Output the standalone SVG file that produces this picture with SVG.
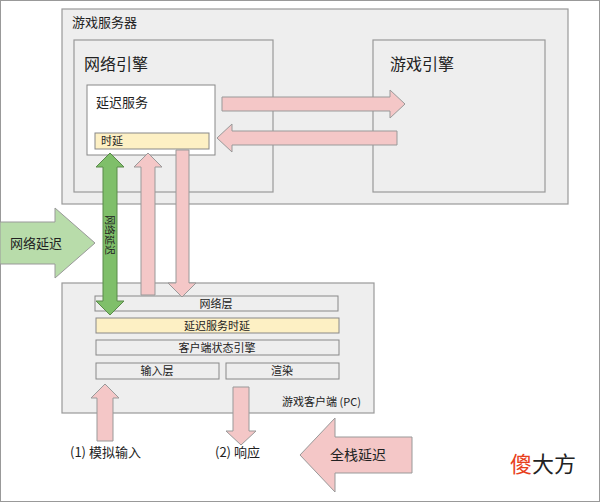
<svg xmlns="http://www.w3.org/2000/svg" width="600" height="502" viewBox="0 0 600 502">
<style>
text{font-family:"Noto Sans CJK SC","Noto Sans",sans-serif;fill:#222}
.box{fill:#eee;stroke:#999;stroke-width:1.2}
.row{fill:#eee;stroke:#888;stroke-width:1}
.yel{fill:#fdf0c4;stroke:#888;stroke-width:1}
.pink{fill:#f4c7c7;stroke:#999;stroke-width:1}
.green{fill:#7fbf6a;stroke:#5a8a4a;stroke-width:1}
.lg{fill:#b8dcaa;stroke:#999;stroke-width:1}
.s{font-size:11px}
</style>
<rect x="0.5" y="0.5" width="599" height="501" fill="#fff" stroke="#999"/>
<g id="server"><rect class="box" x="62" y="9" width="506" height="195"/><text x="72" y="27" font-size="13">游戏服务器</text></g>
<g id="net-engine"><rect class="box" x="74" y="40" width="199" height="152"/><text x="84" y="70" font-size="16">网络引擎</text></g>
<g id="game-engine"><rect class="box" x="373" y="40" width="172" height="152"/><text x="390" y="70" font-size="16">游戏引擎</text></g>
<g id="latency-service"><rect x="87" y="85" width="128" height="70" fill="#fff" stroke="#888"/><text x="96" y="107" font-size="13">延迟服务</text>
<rect class="yel" x="95" y="133" width="114" height="16"/><text x="101" y="145" class="s">时延</text></g>
<g id="client"><rect class="box" x="62" y="283" width="312" height="130"/><text x="282" y="406" class="s">游戏客户端 (PC)</text>
<rect class="row" x="95" y="296" width="243" height="15"/><text x="216" y="308" class="s" text-anchor="middle">网络层</text>
<rect class="yel" x="96" y="318" width="243" height="15"/><text x="217" y="330" class="s" text-anchor="middle">延迟服务时延</text>
<rect class="row" x="96" y="340" width="243" height="15"/><text x="217" y="352" class="s" text-anchor="middle">客户端状态引擎</text>
<rect class="row" x="96" y="363" width="123" height="16"/><text x="157" y="375" class="s" text-anchor="middle">输入层</text>
<rect class="row" x="226" y="363" width="113" height="16"/><text x="282" y="375" class="s" text-anchor="middle">渲染</text></g>
<g id="connectors">
<polygon class="pink" points="222,97 390,97 390,90 405,104 390,118 390,111 222,111"/>
<polygon class="pink" points="397,131 232,131 232,124 217,138 232,152 232,145 397,145"/>
<polygon class="green" points="110,153 124,167 117,167 117,301 124,301 110,315 96,301 103,301 103,167 96,167"/>
<polygon class="pink" points="148,153 162,167 155,167 155,295 141,295 141,167 134,167"/>
<polygon class="pink" points="176,150 189,150 189,283 196,283 182,297 168,283 176,283"/>
<polygon class="pink" points="105,384 119,398 113,398 113,441 97,441 97,398 91,398"/>
<polygon class="pink" points="233,387 249,387 249,431 256,431 241,445 226,431 233,431"/>
<polygon class="lg" points="0,222 55,222 55,208 95,243 55,278 55,264 0,264"/>
<polygon class="pink" points="412,437 412,473 335,473 335,492 300,455 335,418 335,437"/>
</g>
<text x="0" y="0" font-size="10" text-anchor="middle" transform="translate(106,235) rotate(90)">网络延迟</text>
<text x="10" y="248" font-size="13">网络延迟</text>
<text x="330" y="460" font-size="14">全栈延迟</text>
<text x="70" y="457" font-size="13">(1) 模拟输入</text>
<text x="215" y="457" font-size="13">(2) 响应</text>
<text x="510" y="472" font-size="22"><tspan fill="#e8401c">傻</tspan>大方</text>
</svg>
